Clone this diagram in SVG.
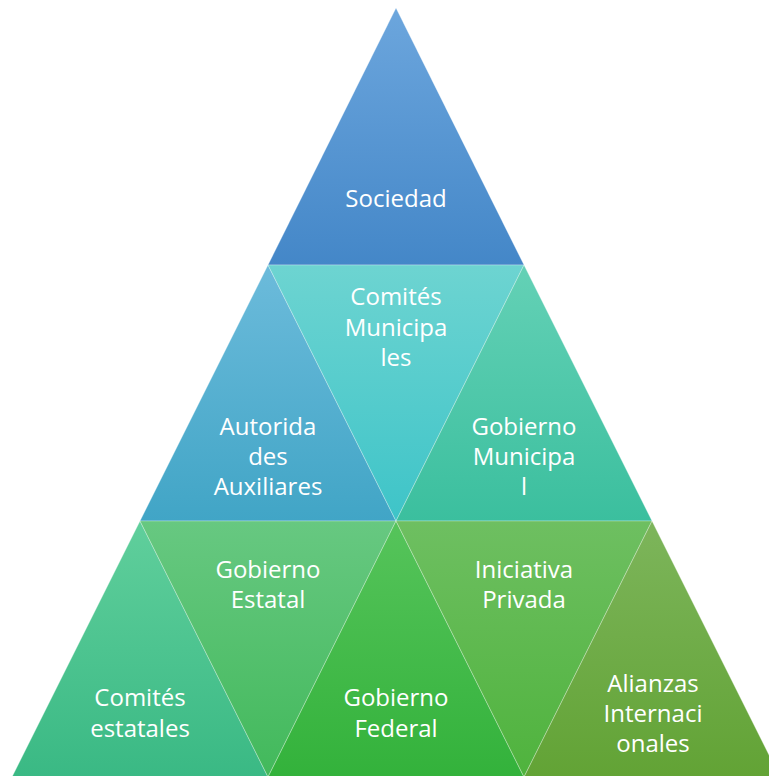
<svg xmlns="http://www.w3.org/2000/svg" width="769" height="776" viewBox="0 0 769 776">
<defs>
<linearGradient id="g1" x1="0" y1="0" x2="0" y2="1"><stop offset="0" stop-color="#6ca6dd"/><stop offset="1" stop-color="#4487c8"/></linearGradient>
<linearGradient id="g2" x1="0" y1="0" x2="0" y2="1"><stop offset="0" stop-color="#6cbbdb"/><stop offset="1" stop-color="#41a5c6"/></linearGradient>
<linearGradient id="g3" x1="0" y1="0" x2="0" y2="1"><stop offset="0" stop-color="#6dd4d1"/><stop offset="1" stop-color="#3ec4c8"/></linearGradient>
<linearGradient id="g4" x1="0" y1="0" x2="0" y2="1"><stop offset="0" stop-color="#64d1b6"/><stop offset="1" stop-color="#3bbf9e"/></linearGradient>
<linearGradient id="g5" x1="0" y1="0" x2="0" y2="1"><stop offset="0" stop-color="#60cf9c"/><stop offset="1" stop-color="#3ab984"/></linearGradient>
<linearGradient id="g6" x1="0" y1="0" x2="0" y2="1"><stop offset="0" stop-color="#67c881"/><stop offset="1" stop-color="#42b95b"/></linearGradient>
<linearGradient id="g7" x1="0" y1="0" x2="0" y2="1"><stop offset="0" stop-color="#56c45b"/><stop offset="1" stop-color="#33b23b"/></linearGradient>
<linearGradient id="g8" x1="0" y1="0" x2="0" y2="1"><stop offset="0" stop-color="#6ebf61"/><stop offset="1" stop-color="#4fb33d"/></linearGradient>
<linearGradient id="g9" x1="0" y1="0" x2="0" y2="1"><stop offset="0" stop-color="#7db55b"/><stop offset="1" stop-color="#62a335"/></linearGradient>
</defs>
<style>
.t{stroke:#ffffff;stroke-opacity:0.35;stroke-width:0.8}
text{font-family:"Open Sans","Liberation Sans",sans-serif;font-size:24px;fill:#ffffff;text-anchor:middle}
</style>
<g id="connectors"></g>
<g id="n-sociedad"><polygon class="t" fill="url(#g1)" points="396,8 524,265 268,265"/><text x="396" y="207">Sociedad</text></g>
<g id="n-autoridades"><polygon class="t" fill="url(#g2)" points="268,265 396,521 140,521"/><text x="268" y="435">Autorida</text><text x="268" y="465">des</text><text x="268" y="495">Auxiliares</text></g>
<g id="n-comites-municipales"><polygon class="t" fill="url(#g3)" points="268,265 524,265 396,521"/><text x="396" y="305">Comités</text><text x="396" y="336">Municipa</text><text x="396" y="366">les</text></g>
<g id="n-gobierno-municipal"><polygon class="t" fill="url(#g4)" points="524,265 652,521 396,521"/><text x="524" y="435">Gobierno</text><text x="524" y="465">Municipa</text><text x="524" y="495">l</text></g>
<g id="n-comites-estatales"><polygon class="t" fill="url(#g5)" points="140,521 268,777 12,777"/><text x="140" y="706">Comités</text><text x="140" y="737">estatales</text></g>
<g id="n-gobierno-estatal"><polygon class="t" fill="url(#g6)" points="140,521 396,521 268,777"/><text x="268" y="578">Gobierno</text><text x="268" y="608">Estatal</text></g>
<g id="n-gobierno-federal"><polygon class="t" fill="url(#g7)" points="396,521 524,777 268,777"/><text x="396" y="706">Gobierno</text><text x="396" y="737">Federal</text></g>
<g id="n-iniciativa-privada"><polygon class="t" fill="url(#g8)" points="396,521 652,521 524,777"/><text x="524" y="578">Iniciativa</text><text x="524" y="608">Privada</text></g>
<g id="n-alianzas"><polygon class="t" fill="url(#g9)" points="652,521 780,777 524,777"/><text x="653" y="692">Alianzas</text><text x="653" y="722">Internaci</text><text x="653" y="752">onales</text></g>
</svg>
